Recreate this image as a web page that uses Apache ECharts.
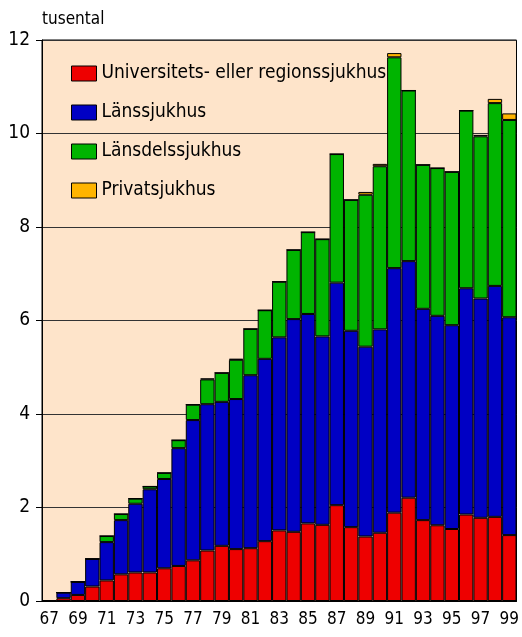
<!DOCTYPE html>
<html lang="sv">
<head>
    <meta charset="UTF-8">
    <title>Sjukhus</title>
    <script type="text/javascript" src="https://cdn.jsdelivr.net/npm/echarts@6/dist/echarts.min.js"></script>
    <style>body{margin:0;background:#fff}</style>
</head>
<body>
<div id="chartmain" style="width:522px;height:637px"></div>
<script>
    var years = ['67','68','69','70','71','72','73','74','75','76','77','78','79','80','81','82','83',
        '84','85','86','87','88','89','90','91','92','93','94','95','96','97','98','99'];
    // tusental
    var univ = [0,0.06,0.13,0.31,0.44,0.57,0.61,0.61,0.70,0.75,0.87,1.08,1.18,1.11,1.13,1.28,1.51,
        1.48,1.66,1.63,2.05,1.58,1.38,1.46,1.89,2.21,1.73,1.62,1.54,1.85,1.78,1.80,1.41];
    var lans = [0,0.12,0.28,0.59,0.82,1.16,1.47,1.78,1.91,2.52,3.00,3.13,3.08,3.21,3.70,3.90,4.13,
        4.55,4.48,4.03,4.76,4.20,4.06,4.35,5.23,5.06,4.52,4.48,4.36,4.84,4.69,4.94,4.66];
    var lansdel = [0,0,0,0,0.13,0.13,0.11,0.06,0.13,0.17,0.33,0.53,0.62,0.84,0.99,1.04,1.19,
        1.48,1.75,2.08,2.75,2.80,3.25,3.49,4.51,3.65,3.08,3.16,3.28,3.80,3.47,3.91,4.22];
    var privat = [0,0,0,0,0,0,0,0,0,0,0,0.02,0,0.02,0,0,0,
        0,0,0,0,0,0.06,0.05,0.09,0,0,0,0,0,0.03,0.09,0.14];

    var font = '"DejaVu Sans Condensed", sans-serif';

    function bar(name, data, color) {
        return {
            name: name,
            type: 'bar',
            stack: 'total',
            data: data,
            barCategoryGap: 0,
            itemStyle: {color: color, borderColor: '#000', borderWidth: 1},
            emphasis: {disabled: true}
        };
    }

    var option = {
        animation: false,
        grid: {left: 42, right: 2, top: 40, bottom: 36, show: true,
            backgroundColor: '#fee4ca', borderColor: '#000', borderWidth: 1},
        legend: {
            orient: 'vertical', left: 66, top: 58,
            icon: 'rect',
            itemWidth: 25, itemHeight: 15, itemGap: 18,
            itemStyle: {borderColor: '#000', borderWidth: 1},
            textStyle: {fontFamily: font, fontSize: 19, lineHeight: 21, color: '#000'},
            data: ['Universitets- eller regionssjukhus', 'Länssjukhus', 'Länsdelssjukhus', 'Privatsjukhus']
        },
        xAxis: {
            type: 'category',
            data: years,
            axisLine: {lineStyle: {color: '#000'}},
            axisTick: {alignWithLabel: true, interval: 1, length: 6, lineStyle: {color: '#000'}},
            axisLabel: {interval: 1, fontFamily: font, fontSize: 17, color: '#000', margin: 10}
        },
        yAxis: {
            type: 'value',
            min: 0, max: 12, interval: 2,
            name: 'tusental',
            nameLocation: 'end',
            nameGap: 12,
            nameTextStyle: {fontFamily: font, fontSize: 17, color: '#000', align: 'left'},
            axisLine: {show: true, lineStyle: {color: '#000'}},
            axisTick: {show: true, length: 6, lineStyle: {color: '#000'}},
            axisLabel: {fontFamily: font, fontSize: 19, color: '#000', margin: 12},
            splitLine: {lineStyle: {color: '#333', width: 1}}
        },
        series: [
            bar('Universitets- eller regionssjukhus', univ, '#ee0000'),
            bar('Länssjukhus', lans, '#0000c4'),
            bar('Länsdelssjukhus', lansdel, '#00b400'),
            bar('Privatsjukhus', privat, '#ffb400')
        ]
    };

    var myChart = echarts.init(document.getElementById('chartmain'));
    myChart.setOption(option);
</script>
</body>
</html>
